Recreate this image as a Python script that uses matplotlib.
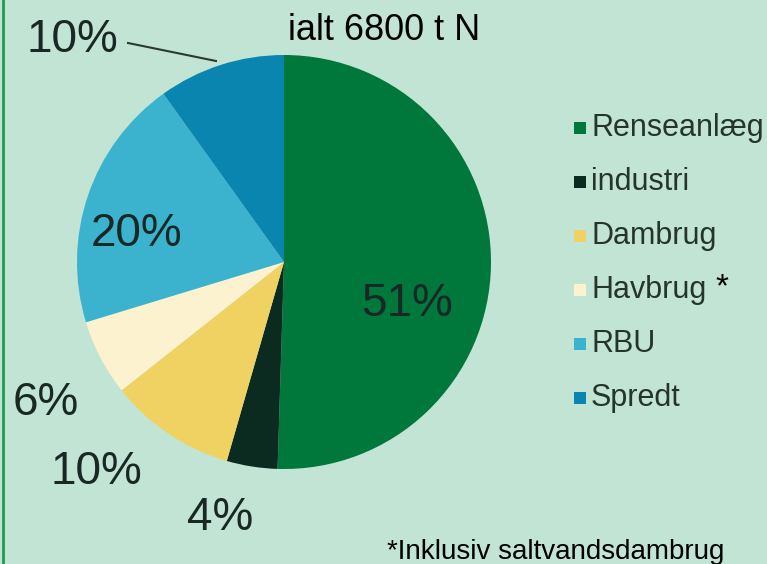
import matplotlib
matplotlib.use("Agg")
import matplotlib.pyplot as plt

categories = ["Renseanlæg", "industri", "Dambrug", "Havbrug", "RBU", "Spredt"]
values = [51, 4, 10, 6, 20, 10]
colors = ["#00783c", "#0b2a20", "#efd262", "#fcf2cf", "#3bb3cf", "#0a85b0"]
title = "ialt 6800 t N"
footnote = "*Inklusiv saltvandsdambrug"

plt.rcParams["font.family"] = ["Liberation Sans", "DejaVu Sans"]

W, H = 767, 564
bg = "#c1e4d4"
fig = plt.figure(figsize=(W / 100, H / 100), dpi=100, facecolor=bg)
ax = fig.add_axes([0, 0, 1, 1])

def Y(py):
    return H - py

cx, cy, r = 284, Y(262), 207
ax.pie(values, colors=colors, startangle=90, counterclock=False,
       center=(cx, cy), radius=r, frame=True,
       wedgeprops=dict(linewidth=0))
ax.set_xlim(0, W)
ax.set_ylim(0, H)
ax.set_aspect("equal")
ax.axis("off")

txt = "#1a2825"
label_pos = [(407, 304), (220, 518), (96, 472), (46, 403), (137, 234), (72, 40)]
for v, (px, py) in zip(values, label_pos):
    ax.text(px, Y(py), f"{v}%", fontsize=33, color=txt, ha="center", va="center")

ax.plot([128, 216], [Y(43), Y(61)], color="#2a3a32", lw=1.5)

ax.text(384, Y(31), title, fontsize=26, color="black", ha="center", va="center")

for i, (c, name) in enumerate(zip(colors, categories)):
    yy = Y(128 + i * 54)
    ax.scatter([580], [yy], marker="s", s=70, color=c, edgecolors="none")
    ax.text(591, yy, name, fontsize=22, color="#25352c", ha="left", va="center")
ax.text(722, Y(288), "*", fontsize=24, color="black", ha="center", va="center")

ax.text(556, Y(552), footnote, fontsize=20, color="black", ha="center", va="center")

ax.plot([3, 3], [0, H], color="#1e9a55", lw=2)

fig.savefig("out.png", dpi=100, facecolor=bg)
